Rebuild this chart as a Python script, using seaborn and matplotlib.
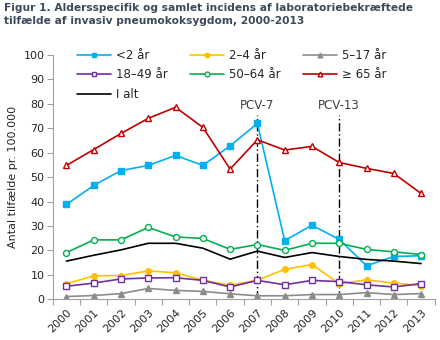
import matplotlib
matplotlib.use("Agg")
import matplotlib.pyplot as plt
import seaborn as sns
import numpy as np
from matplotlib.lines import Line2D

sns.set_theme(style="white")
plt.rcParams["font.family"] = ["DejaVu Sans"]

years = ["2000", "2001", "2002", "2003", "2004", "2005", "2006",
         "2007", "2008", "2009", "2010", "2011", "2012", "2013"]

under2 = [38.8, 46.6, 52.7, 54.8, 58.9, 54.8, 62.8, 72.0, 24.0, 30.3, 24.5, 13.7, 17.5, 17.8]
age2_4 = [6.3, 9.6, 9.7, 11.6, 10.8, 7.8, 5.7, 7.8, 12.2, 14.2, 6.4, 7.9, 6.6, 5.6]
age5_17 = [1.1, 1.5, 2.3, 4.4, 3.6, 3.2, 2.2, 1.4, 1.4, 1.9, 1.9, 2.7, 1.9, 2.3]
age18_49 = [5.3, 6.6, 8.3, 8.7, 8.8, 7.7, 5.0, 7.7, 5.9, 7.7, 7.2, 5.9, 5.0, 6.4]
age50_64 = [19.1, 24.3, 24.3, 29.4, 25.5, 24.9, 20.4, 22.4, 20.0, 22.9, 22.9, 20.4, 19.4, 18.3]
age65plus = [54.8, 61.3, 67.9, 74.1, 78.6, 70.4, 53.3, 65.3, 61.1, 62.6, 56.0, 53.6, 51.5, 43.3]
total = [15.6, 18.0, 20.2, 22.9, 22.9, 20.9, 16.4, 19.7, 17.1, 19.1, 17.5, 16.3, 15.6, 14.6]

series_labels = ["<2 år", "2–4 år", "5–17 år", "18–49 år", "50–64 år", "≥ 65 år", "I alt"]
vaccine_labels = ["PCV-7", "PCV-13"]
vaccine_years = ["2007", "2010"]

title = ("Figur 1. Aldersspecifik og samlet incidens af laboratoriebekræftede\n"
         "tilfælde af invasiv pneumokoksygdom, 2000-2013")
ylabel = "Antal tilfælde pr. 100.000"

fig = plt.figure(figsize=(4.4, 3.4), dpi=100)
ax = fig.add_axes([0.12, 0.12, 0.868, 0.718])

x = np.arange(len(years))
styles = [
    (under2, "#00B0F0", "s", True, 4.3),
    (age2_4, "#FFC000", "o", True, 4.0),
    (age5_17, "#8C8C8C", "^", True, 4.3),
    (age18_49, "#7030A0", "s", False, 4.3),
    (age50_64, "#00B050", "o", False, 4.3),
    (age65plus, "#C00000", "^", False, 4.3),
    (total, "#000000", None, True, 0),
]

handles = []
for (vals, col, mk, filled, ms), lab in zip(styles, series_labels):
    kw = dict(x=x, y=vals, color=col, ax=ax, linewidth=1.2, legend=False)
    if mk is not None:
        kw.update(marker=mk, markersize=ms, markeredgecolor=col,
                  markerfacecolor=col if filled else "white", markeredgewidth=1.0)
    sns.lineplot(**kw)
    handles.append(Line2D([], [], color=col, linewidth=1.2,
                          marker=mk if mk else None, markersize=ms * 0.8,
                          markeredgecolor=col,
                          markerfacecolor=(col if filled else "white"),
                          label=lab))

# vaccine introduction markers
for lab, yr in zip(vaccine_labels, vaccine_years):
    xi = years.index(yr)
    ax.plot([xi, xi], [0, 75.5], color="black", linestyle=(0, (6, 2, 1, 2)),
            linewidth=1.0, zorder=1)
    ax.text(xi, 76.5, lab, ha="center", va="bottom", fontsize=8.5, color="#404040")

ax.set_xlim(-0.5, len(years) - 0.5)
ax.set_ylim(0, 100)
ax.set_yticks(np.arange(0, 101, 10))
ax.set_xticks(x)
ax.set_xticklabels(years, rotation=45, ha="right", rotation_mode="anchor", fontsize=8)
ax.set_xticks(np.arange(-0.5, len(years), 1), minor=True)
ax.tick_params(axis="x", which="major", length=0, pad=6)
ax.tick_params(axis="x", which="minor", length=4, color="#A0A0A0", width=0.8, bottom=True)
ax.tick_params(axis="y", which="major", length=4, color="#A0A0A0", width=0.8, left=True,
               labelsize=8, pad=2)
for s in ["top", "right"]:
    ax.spines[s].set_visible(False)
for s in ["left", "bottom"]:
    ax.spines[s].set_color("#A0A0A0")
    ax.spines[s].set_linewidth(0.8)
ax.set_ylabel(ylabel, fontsize=8, labelpad=4)

order = [0, 3, 6, 1, 4, 2, 5]
ax.legend([handles[i] for i in order], [series_labels[i] for i in order],
          ncol=3, frameon=False, loc="upper left", bbox_to_anchor=(0.05, 1.045),
          fontsize=8.5, handlelength=2.9, columnspacing=1.9, labelspacing=0.55,
          handletextpad=0.4, borderaxespad=0)

fig.text(0.01, 0.99, title, ha="left", va="top", fontsize=7.7, fontweight="bold",
         color="#3B4A5C", linespacing=1.35)

fig.savefig("out.png", dpi=100)
